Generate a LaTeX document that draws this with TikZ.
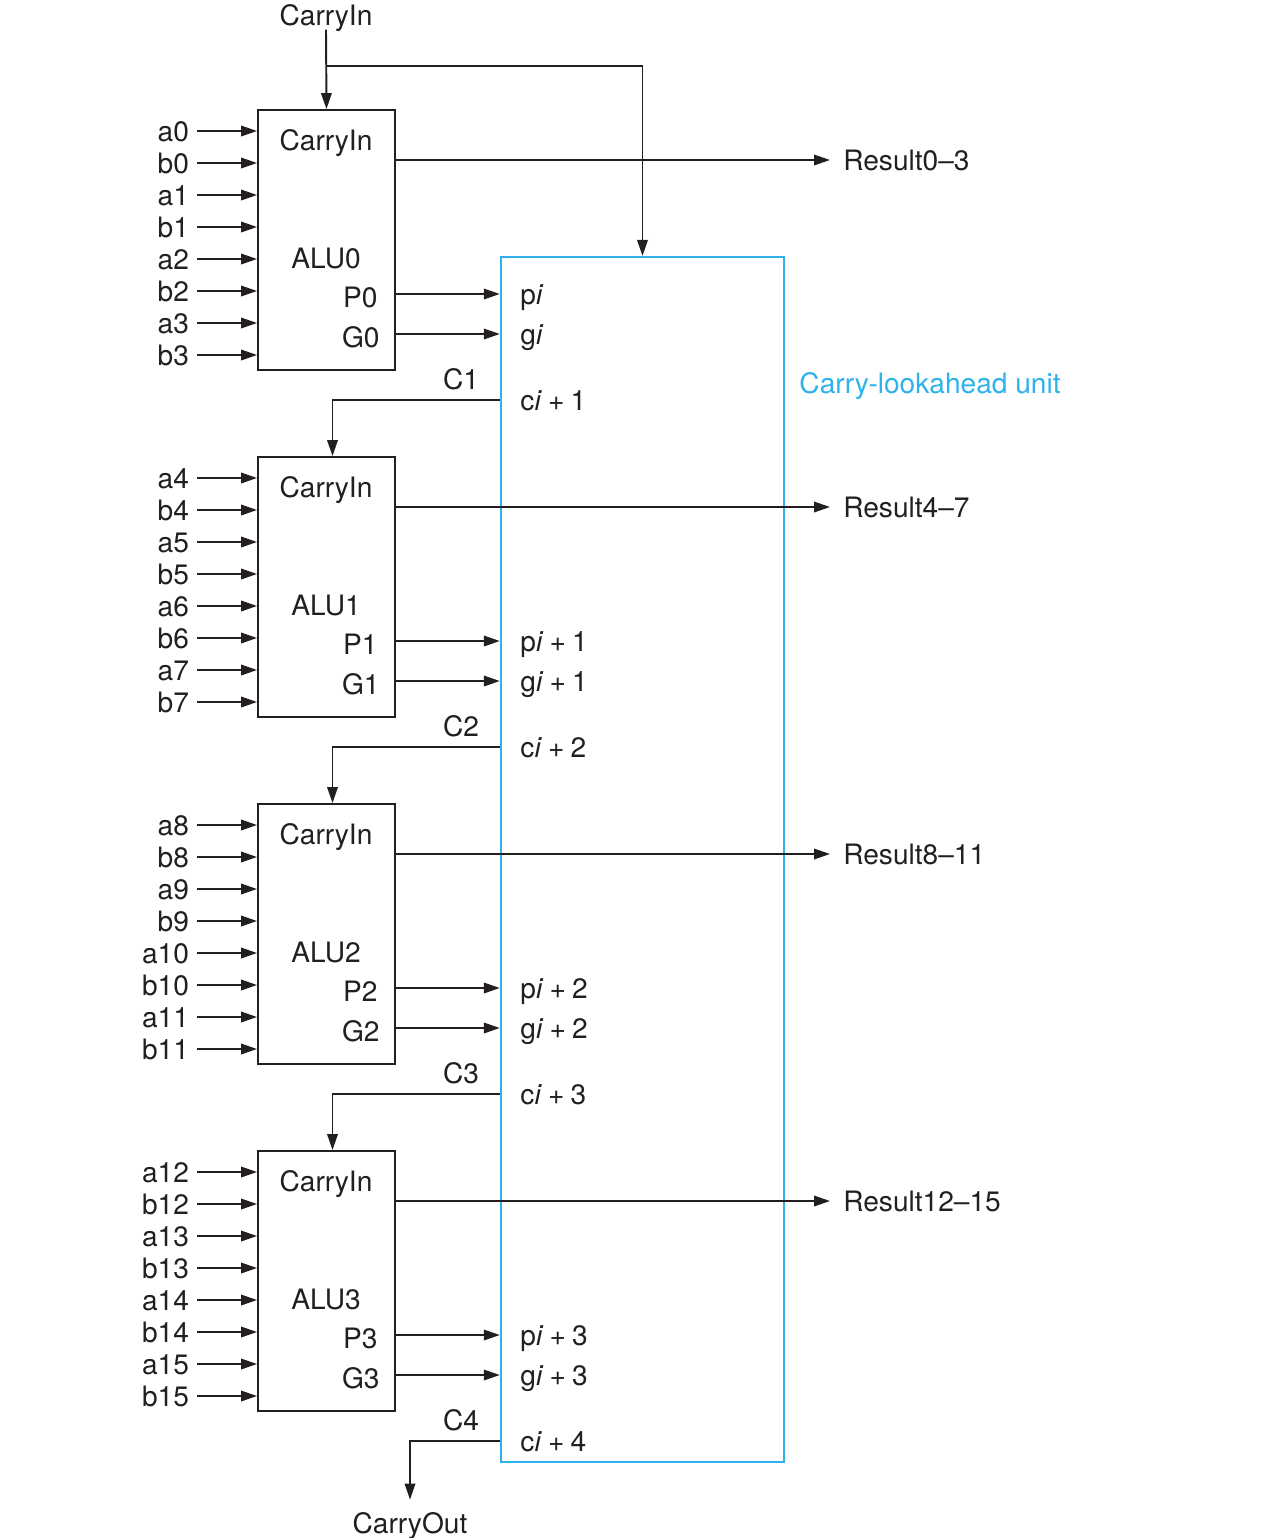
\documentclass[tikz,border=0pt]{standalone}
\usepackage{fontspec}
\setmainfont{TeX Gyre Heros}
\usetikzlibrary{positioning,arrows.meta}
\definecolor{ink}{RGB}{35,31,32}
\definecolor{clablue}{RGB}{45,178,235}

\tikzset{
  alubox/.style={draw,line width=1.1pt,minimum width=2.74cm,minimum height=5.2cm,inner sep=0pt},
  clabox/.style={draw=clablue,line width=1.4pt,minimum width=5.66cm,minimum height=24.1cm,inner sep=0pt},
  txt/.style={text height=11.5pt,text depth=0pt,inner sep=2pt},
  inlabel/.style={txt,anchor=east,inner xsep=4pt},
  outlabel/.style={txt,anchor=east},
  clalabel/.style={txt,anchor=west},
  reslabel/.style={txt,anchor=west,inner xsep=7pt},
}
\newcommand{\plusk}[1]{\hspace{0.22em}+\hspace{0.22em}#1}

\begin{document}
\begin{tikzpicture}[x=0.02cm,y=-0.02cm,>={Triangle[length=3.2mm,width=2.1mm]},
  color=ink,line width=1.1pt,font=\fontsize{16}{19}\selectfont]
\useasboundingbox (0,0) rectangle (1272,1538);

% carry-lookahead unit
\node[clabox] (cla) at (642.5,859.5) {};
\node[clalabel,text=clablue] (clatitle) at (795,383) {Carry-lookahead unit};

% the four 4-bit ALUs
\foreach \k in {0,...,3}{
  \pgfmathtruncatemacro{\ytop}{110+347*\k}
  \pgfmathtruncatemacro{\lo}{4*\k}
  \pgfmathtruncatemacro{\hi}{4*\k+3}
  \pgfmathtruncatemacro{\m}{\k+1}
  \node[alubox] (alu\k) at (326.5,\ytop+130) {};
  \node[txt] (cinlbl\k) at (326,\ytop+30) {CarryIn};
  \node[txt] (alulbl\k) at (326,\ytop+148) {ALU\k};
  \node[outlabel] (P\k) at (382,\ytop+187) {P\k};
  \node[outlabel] (G\k) at (384,\ytop+227) {G\k};
  % operand inputs
  \foreach \j in {0,...,3}{
    \pgfmathtruncatemacro{\n}{4*\k+\j}
    \node[inlabel] (a\n) at (197,\ytop+21+64*\j) {a\n};
    \node[inlabel] (b\n) at (197,\ytop+53+64*\j) {b\n};
    \draw[->] (a\n.east) -- (a\n.east -| alu\k.west);
    \draw[->] (b\n.east) -- (b\n.east -| alu\k.west);
  }
  % result
  \node[reslabel] (res\k) at (830,\ytop+50) {Result\lo--\hi};
  \draw[->] (alu\k.east |- res\k) -- (res\k.west);
  % propagate / generate into the lookahead unit
  \node[clalabel] (p\k) at (516,\ytop+184) {p\textit{i}\ifnum\k>0\plusk{\k}\fi};
  \node[clalabel] (g\k) at (516,\ytop+224) {g\textit{i}\ifnum\k>0\plusk{\k}\fi};
  \draw[->] (alu\k.east |- p\k) -- (cla.west |- p\k);
  \draw[->] (alu\k.east |- g\k) -- (cla.west |- g\k);
  % carry out of the lookahead unit
  \node[clalabel] (c\k) at (516,\ytop+290) {c\textit{i}\plusk{\m}};
  \node[txt] (C\m) at (461,\ytop+269) {C\m};
}

% carries between stages
\foreach \k/\m in {0/1,1/2,2/3}{
  \draw[->] (cla.west |- c\k) -| ([xshift=0.12cm]alu\m.north);
}

% carry in
\node[txt] (cin) at (326,15) {CarryIn};
\coordinate (split) at (326,66);
\draw[->] (cin.south) -- (alu0.north);
\draw[->] (split) -| (cla.north);

% carry out
\node[txt] (cout) at (410,1523) {CarryOut};
\draw[->] (cla.west |- c3) -| ([yshift=5pt]cout.north);
\end{tikzpicture}
\end{document}
